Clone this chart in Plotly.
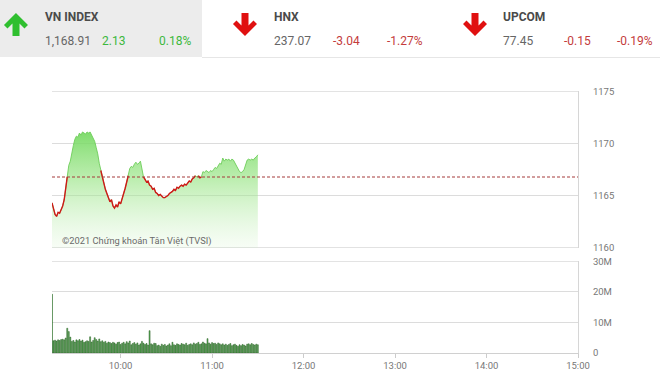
import plotly.graph_objects as go
import pandas as pd

# ---------------- data ----------------
ref_price = 1166.78
price = [
    1164.3, 1163.6, 1163.2, 1163.0, 1163.4, 1163.3, 1163.6, 1164.0, 1164.6, 1165.6,
    1166.8, 1167.9, 1168.3, 1169.2, 1169.8, 1170.4, 1170.7, 1170.6, 1171.0, 1170.8,
    1171.1, 1171.0, 1170.9, 1171.1, 1171.0, 1171.1, 1170.8, 1170.6, 1170.2, 1169.6,
    1169.0, 1168.1, 1167.4, 1166.7, 1166.1, 1165.6, 1165.2, 1164.8, 1164.4, 1164.6,
    1164.0, 1163.8, 1164.1, 1163.9, 1164.4, 1164.2, 1164.8, 1165.3, 1165.7, 1166.3,
    1166.9, 1167.6, 1167.8, 1167.7, 1168.0, 1168.2, 1168.0, 1168.1, 1168.3, 1167.4,
    1166.8, 1166.6, 1166.3, 1166.4, 1166.0, 1165.9, 1165.6, 1165.7, 1165.3, 1165.2,
    1165.0, 1165.1, 1164.9, 1164.8, 1164.8, 1164.9, 1165.0, 1165.2, 1165.3, 1165.4,
    1165.6, 1165.5, 1165.8, 1165.7, 1165.9, 1166.0, 1165.9, 1166.1, 1166.0, 1166.2,
    1166.4, 1166.3, 1166.6, 1166.7, 1166.9, 1166.8, 1166.9, 1166.7, 1166.8, 1167.3,
    1167.2, 1167.4, 1167.3, 1167.2, 1167.4, 1167.3, 1167.5, 1167.7, 1167.6, 1167.9,
    1168.1, 1168.0, 1168.6, 1168.3, 1168.5, 1168.4, 1168.5, 1168.3, 1168.5, 1168.4,
    1168.1, 1167.8, 1167.5, 1167.3, 1167.2, 1167.3, 1167.5, 1167.9, 1168.4, 1168.5,
    1168.4, 1168.5, 1168.4, 1168.6, 1168.7, 1168.91,
]
volume_m = [
    19.2, 4.0, 4.2, 3.9, 4.3, 4.1, 4.4, 4.5, 4.3, 4.9,
    8.1, 7.0, 5.2, 3.8, 4.1, 3.6, 4.3, 4.0, 4.4, 3.9,
    4.2, 3.5, 3.7, 4.0, 3.8, 5.3, 3.6, 4.1, 5.0, 4.4,
    3.9, 4.6, 3.7, 4.0, 3.5, 3.8, 3.2, 3.6, 3.4, 3.1,
    3.5, 3.3, 2.9, 3.4, 3.6, 2.8, 3.2, 3.5, 3.0, 3.7,
    3.3, 3.9, 2.7, 3.1, 3.4, 2.9, 3.3, 2.6, 3.0, 3.8,
    3.2, 2.8, 3.1, 2.6, 7.3, 3.0, 2.7, 3.2, 3.1, 2.4,
    2.6, 2.2, 2.9, 2.5, 2.8, 2.3, 2.6, 3.0, 2.4, 3.5,
    2.7, 2.5, 3.0, 2.8, 2.6, 3.1, 2.9, 2.7, 3.2, 2.5,
    2.8, 3.0, 2.7, 3.3, 2.9, 3.1, 3.5, 2.8, 3.0, 3.6,
    3.2, 3.0, 4.7, 3.3, 2.9, 3.4, 3.1, 3.2, 2.8, 3.3,
    3.0, 2.7, 3.0, 2.6, 2.9, 2.5, 2.8, 3.1, 2.4, 2.7,
    2.9, 2.5, 2.2, 2.7, 2.4, 2.8, 2.6, 2.3, 2.9, 3.0,
    2.7, 3.1, 2.8, 2.6, 2.9, 2.7,
]
price_ticks = [1160, 1165, 1170, 1175]
vol_ticks = [0, 10, 20, 30]
vol_tick_text = ["0", "10M", "20M", "30M"]
hour_ticks = ["10:00", "11:00", "12:00", "13:00", "14:00", "15:00"]
day = "2021-03-10"
session_start, session_end = "09:15", "15:00"

indices = [
    # name, value, change, pct, up?
    ("VN INDEX", "1,168.91", "2.13", "0.18%", True),
    ("HNX", "237.07", "-3.04", "-1.27%", False),
    ("UPCOM", "77.45", "-0.15", "-0.19%", False),
]
watermark = "©2021 Chứng khoán Tân Việt (TVSI)"

# ---------------- build ----------------
times = pd.date_range(f"{day} {session_start}", periods=len(price), freq="min")

W, H = 660, 385
def px(x):
    return x / W
def py(y):
    return 1 - y / H

red_y = []
n = len(price)
for i, v in enumerate(price):
    below = v < ref_price
    nb = (i > 0 and price[i - 1] < ref_price) or (i < n - 1 and price[i + 1] < ref_price)
    red_y.append(v if (below or nb) else None)

fig = go.Figure()

fig.add_trace(go.Scatter(
    x=times, y=price, mode="lines", fill="tozeroy",
    line=dict(color="rgba(110,205,90,0.9)", width=1),
    fillgradient=dict(type="vertical", start=1160, stop=1171.6,
                      colorscale=[[0, "rgba(200,240,190,0.15)"],
                                  [0.55, "rgba(150,228,130,0.62)"],
                                  [1, "rgba(110,215,90,0.95)"]]),
    xaxis="x", yaxis="y", hoverinfo="skip", showlegend=False,
))
fig.add_trace(go.Scatter(
    x=times, y=red_y, mode="lines", connectgaps=False,
    line=dict(color="#d01818", width=1.4),
    xaxis="x", yaxis="y", hoverinfo="skip", showlegend=False,
))
fig.add_trace(go.Scatter(
    x=[f"{day} {session_start}", f"{day} {session_end}"], y=[ref_price, ref_price],
    mode="lines", line=dict(color="#a53a3a", width=1, dash="3px,2px"),
    xaxis="x", yaxis="y", hoverinfo="skip", showlegend=False,
))
fig.add_trace(go.Bar(
    x=times, y=volume_m,
    marker=dict(color="#5cb85c", line=dict(color="#24561f", width=0.5)),
    xaxis="x2", yaxis="y2", hoverinfo="skip", showlegend=False,
))

xrange = [f"{day} {session_start}", f"{day} {session_end}"]
tickvals = [f"{day} {h}" for h in hour_ticks]
dom_x = [px(52), px(578)]
grid = "#dcdcdc"
axis_font = dict(family="Roboto", size=9.5, color="#777")

fig.update_layout(
    width=W, height=H,
    margin=dict(l=0, r=0, t=0, b=0),
    paper_bgcolor="white", plot_bgcolor="white",
    bargap=0.35,
    xaxis=dict(domain=dom_x, type="date", range=xrange, showgrid=False,
               showticklabels=False, showline=False, zeroline=False,
               anchor="y", matches="x2"),
    yaxis=dict(domain=[py(248), py(91)], range=[1159.97, 1175.03], tickvals=price_ticks,
               side="right", showgrid=True, gridcolor=grid, showline=True,
               linecolor="#d6d6d6", zeroline=False, tickfont=axis_font,
               ticks="", ticklabelstandoff=12, anchor="x", automargin=False),
    xaxis2=dict(domain=dom_x, type="date", range=xrange, tickvals=tickvals,
                ticktext=hour_ticks, showgrid=False, showline=True,
                linecolor="#d0d0d0", ticks="outside", ticklen=4, tickcolor="#cccccc",
                tickfont=axis_font, anchor="y2", automargin=False, zeroline=False),
    yaxis2=dict(domain=[py(353), py(261)], range=[0, 30.1], tickvals=vol_ticks,
                ticktext=vol_tick_text, side="right", showgrid=True, gridcolor=grid,
                showline=True, linecolor="#d6d6d6", zeroline=False, tickfont=axis_font,
                ticks="", ticklabelstandoff=12, anchor="x2", automargin=False),
)

# ---------------- header & edge grid lines ----------------
shapes = [
    dict(type="rect", xref="paper", yref="paper", x0=0, x1=px(202), y0=py(57), y1=1,
         fillcolor="#ececec", line=dict(width=0), layer="below"),
    dict(type="line", xref="paper", yref="paper", x0=px(202), x1=1, y0=py(57.5), y1=py(57.5),
         line=dict(color="#e6e6e6", width=1)),
]
for yv in (price_ticks[0], price_ticks[-1]):
    shapes.append(dict(type="line", xref="x domain", yref="y", x0=0, x1=1, y0=yv, y1=yv,
                       line=dict(color=grid, width=1), layer="below"))
shapes.append(dict(type="line", xref="x2 domain", yref="y2", x0=0, x1=1,
                   y0=vol_ticks[-1], y1=vol_ticks[-1],
                   line=dict(color=grid, width=1), layer="below"))

def arrow_path(cx, top, bottom, up=True):
    # thick arrow polygon in pixel coordinates
    if up:
        pts = [(cx, top), (cx + 12, top + 12), (cx + 8.5, top + 15.5), (cx + 3.5, top + 10.5),
               (cx + 3.5, bottom), (cx - 3.5, bottom), (cx - 3.5, top + 10.5),
               (cx - 8.5, top + 15.5), (cx - 12, top + 12)]
    else:
        pts = [(cx, bottom), (cx + 12, bottom - 12), (cx + 8.5, bottom - 15.5), (cx + 3.5, bottom - 10.5),
               (cx + 3.5, top), (cx - 3.5, top), (cx - 3.5, bottom - 10.5),
               (cx - 8.5, bottom - 15.5), (cx - 12, bottom - 12)]
    return "M " + " L ".join(f"{px(x):.5f},{py(y):.5f}" for x, y in pts) + " Z"

blocks = [
    dict(arrow_cx=16, name_x=43, val_x=43, chg_x=100, pct_x=193),
    dict(arrow_cx=245, name_x=272, val_x=272, chg_x=331, pct_x=425),
    dict(arrow_cx=475, name_x=501, val_x=501, chg_x=562, pct_x=655),
]
annotations = []
for (name, val, chg, pct, up), b in zip(indices, blocks):
    col = "#2fbf2f" if up else "#e01010"
    shapes.append(dict(type="path", xref="paper", yref="paper",
                       path=arrow_path(b["arrow_cx"], 13, 36, up),
                       fillcolor=col, line=dict(width=0)))
    tcol = "#3cb83c" if up else "#c43c3c"
    annotations += [
        dict(x=px(b["name_x"]), y=py(17), text=f"<b>{name}</b>", xanchor="left", yanchor="middle",
             showarrow=False, xref="paper", yref="paper",
             font=dict(family="Roboto", size=12, color="#4a4a4a")),
        dict(x=px(b["val_x"]), y=py(41.5), text=val, xanchor="left", yanchor="middle",
             showarrow=False, xref="paper", yref="paper",
             font=dict(family="Roboto", size=12, color="#666")),
        dict(x=px(b["chg_x"]), y=py(41.5), text=chg, xanchor="left", yanchor="middle",
             showarrow=False, xref="paper", yref="paper",
             font=dict(family="Roboto", size=12, color=tcol)),
        dict(x=px(b["pct_x"]), y=py(41.5), text=pct, xanchor="right", yanchor="middle",
             showarrow=False, xref="paper", yref="paper",
             font=dict(family="Roboto", size=12, color=tcol)),
    ]

annotations.append(dict(x=px(60), y=py(240.5), text=watermark, xanchor="left", yanchor="middle",
                        showarrow=False, xref="paper", yref="paper",
                        font=dict(family="Roboto", size=9.3, color="#6a6a6a")))

fig.update_layout(shapes=shapes, annotations=annotations)
fig.write_html("out.html")
